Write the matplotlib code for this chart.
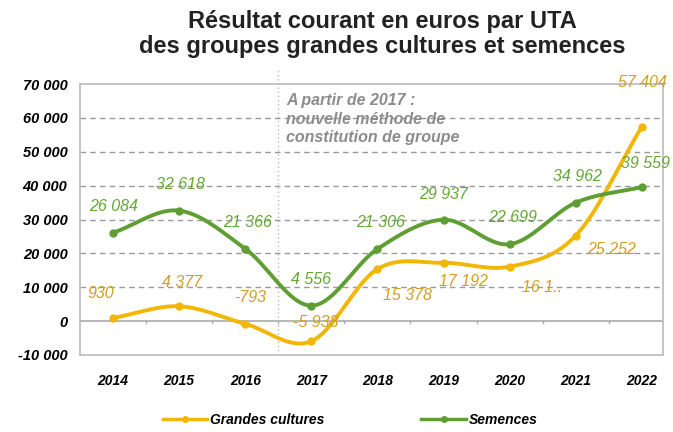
import numpy as np
import matplotlib
matplotlib.use('Agg')
import matplotlib.pyplot as plt

plt.rcParams['font.family'] = ['Liberation Sans', 'DejaVu Sans']

years = ['2014', '2015', '2016', '2017', '2018', '2019', '2020', '2021', '2022']
grandes = [930, 4377, -793, -5938, 15378, 17192, 16100, 25252, 57404]
semences = [26084, 32618, 21366, 4556, 21306, 29937, 22699, 34962, 39559]
grandes_labels = ['930', '4 377', '-793', '-5 938', '15 378', '17 192', '16 1..', '25 252', '57 404']
semences_labels = ['26 084', '32 618', '21 366', '4 556', '21 306', '29 937', '22 699', '34 962', '39 559']
yticks = [-10000, 0, 10000, 20000, 30000, 40000, 50000, 60000, 70000]

yellow = '#F2B705'
yellow_txt = '#D1A021'
green = '#5E9E32'
green_txt = '#63A834'


def smooth(x, y, n=20):
    # catmull-rom curve through the points, like excel's smoothed lines
    x = np.asarray(x, float)
    y = np.asarray(y, float)
    px = np.concatenate([[2 * x[0] - x[1]], x, [2 * x[-1] - x[-2]]])
    py = np.concatenate([[2 * y[0] - y[1]], y, [2 * y[-1] - y[-2]]])
    xs, ys = [], []
    t = np.linspace(0, 1, n)
    for i in range(1, len(px) - 2):
        for p, out in ((px, xs), (py, ys)):
            p0, p1, p2, p3 = p[i - 1], p[i], p[i + 1], p[i + 2]
            out.extend(0.5 * (2 * p1 + (-p0 + p2) * t + (2 * p0 - 5 * p1 + 4 * p2 - p3) * t ** 2
                              + (-p0 + 3 * p1 - 3 * p2 + p3) * t ** 3))
    return xs, ys


fig = plt.figure(figsize=(6.73, 4.32), dpi=100)
ax = fig.add_axes([80 / 673, 1 - 355 / 432, (663 - 80) / 673, (355 - 84) / 432])

x = np.arange(len(years))
ax.set_xlim(-0.5, 8.32)
ax.set_ylim(-10000, 70000)

for v in yticks[2:-1]:
    ax.axhline(v, color='#999999', lw=1, ls=(0, (4, 3)), zorder=1)
ax.axhline(0, color='#AAAAAA', lw=1.2, zorder=1)
for i in range(len(years)):
    ax.plot([i + 0.5, i + 0.5], [-600, 0], color='#AAAAAA', lw=1, zorder=1)
ax.plot([2.5, 2.5], [-10000, 74000], color='#BBBBBB', lw=1, ls=(0, (1, 2)), clip_on=False, zorder=1)

sx, sy = smooth(x, grandes)
ax.plot(sx, sy, color=yellow, lw=2.8, zorder=3)
ax.plot(x, grandes, 'o', color=yellow, ms=5, zorder=4)
sx, sy = smooth(x, semences)
ax.plot(sx, sy, color=green, lw=2.8, zorder=3)
ax.plot(x, semences, 'o', color=green, ms=5, zorder=4)

g_off = [(-12, 24), (3, 24), (5, 26), (4, 19), (30, -26), (20, -19), (32, -21), (36, -14), (1, 44)]
s_off = [(0, 26), (1, 26), (2, 26), (0, 26), (3, 26), (0, 25), (3, 27), (2, 26), (4, 24)]
for i in range(len(years)):
    ax.annotate(grandes_labels[i], (x[i], grandes[i]), xytext=g_off[i], textcoords='offset pixels',
                ha='center', va='center', color=yellow_txt, fontsize=11.5, style='italic', zorder=5)
    ax.annotate(semences_labels[i], (x[i], semences[i]), xytext=s_off[i], textcoords='offset pixels',
                ha='center', va='center', color=green_txt, fontsize=11.5, style='italic', zorder=5)

ax.text(2.62, 67300, 'A partir de 2017 :\nnouvelle méthode de\nconstitution de groupe',
        color='#8C8C8C', fontsize=11.5, style='italic', fontweight='bold', va='top', ha='left',
        linespacing=1.3, zorder=2)

ax.set_xticks(x)
ax.set_xticklabels(years, fontsize=10, style='italic', fontweight='bold')
ax.set_yticks(yticks)
ax.set_yticklabels([f'{v:,}'.replace(',', ' ') for v in yticks], fontsize=10.5, style='italic', fontweight='bold')
ax.tick_params(axis='x', length=0, pad=14)
ax.tick_params(axis='y', length=0, pad=9)
for s in ax.spines.values():
    s.set_color('#BBBBBB')
    s.set_linewidth(1.2)

fig.text(0.568, 0.978, 'Résultat courant en euros par UTA\ndes groupes grandes cultures et semences',
         ha='center', va='top', fontsize=17, fontweight='bold', linespacing=1.15, color='#222222')

l1, = ax.plot([], [], color=yellow, lw=2.5, marker='o', ms=4)
l2, = ax.plot([], [], color=green, lw=2.5, marker='o', ms=4)
leg = fig.legend([l1, l2], ['Grandes cultures', 'Semences'], loc='center', bbox_to_anchor=(0.52, 0.028),
                 ncol=2, frameon=False, columnspacing=7, handlelength=3.2, handletextpad=0.2,
                 prop={'style': 'italic', 'weight': 'bold', 'size': 10})

fig.savefig('out.png', dpi=100)
